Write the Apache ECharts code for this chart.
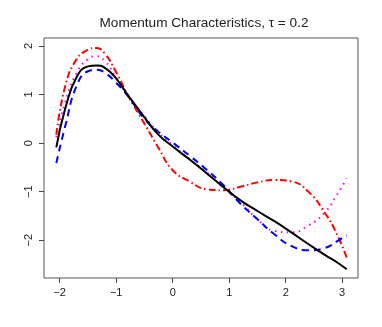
<!DOCTYPE html>
<html>
<head>
<meta charset="utf-8">
<script src="https://cdn.jsdelivr.net/npm/echarts@6/dist/echarts.min.js"></script>
<style>
  html, body { margin: 0; padding: 0; background: #fff; }
  #chart { width: 382px; height: 327px; }
</style>
</head>
<body>
<div id="chart"></div>
<script>
var xs = [-2.06, -1.9, -1.7, -1.5, -1.35, -1.2, -1.0, -0.8, -0.5, -0.25, 0, 0.3, 0.6, 0.9, 1.2, 1.5, 1.8, 2.1, 2.4, 2.7, 2.9, 3.08];

var blackVals = [-0.09, 0.72, 1.36, 1.58, 1.60, 1.55, 1.33, 1.0, 0.53, 0.17, -0.07, -0.34, -0.62, -0.91, -1.18, -1.40, -1.61, -1.84, -2.08, -2.31, -2.45, -2.60];
var blueVals  = [-0.41, 0.36, 1.18, 1.48, 1.51, 1.45, 1.24, 0.98, 0.50, 0.23, 0.01, -0.26, -0.55, -0.87, -1.25, -1.57, -1.88, -2.12, -2.21, -2.16, -2.03, -1.90];
var redVals   = [0.17, 1.18, 1.73, 1.92, 1.96, 1.84, 1.46, 1.0, 0.40, -0.10, -0.56, -0.79, -0.95, -0.97, -0.90, -0.81, -0.76, -0.79, -1.0, -1.45, -1.86, -2.36];
var pinkVals  = [0.12, 0.85, 1.45, 1.73, 1.79, 1.69, 1.35, 0.99, 0.55, 0.22, -0.04, -0.33, -0.60, -0.92, -1.22, -1.57, -1.81, -1.84, -1.70, -1.42, -1.08, -0.73];

var xTicks = [-2, -1, 0, 1, 2, 3];
var yTicks = [-2, -1, 0, 1, 2];

function pairs(vals) {
  return xs.map(function (x, i) { return [x, vals[i]]; });
}
function minusFmt(v) { return v < 0 ? '\u2212' + Math.abs(v) : '' + v; }

var chart = echarts.init(document.getElementById('chart'));

var option = {
  animation: false,
  title: {
    text: 'Momentum Characteristics, τ = 0.2',
    left: 199,
    textAlign: 'center',
    top: 11,
    textStyle: {
      fontFamily: 'Liberation Sans',
      fontSize: 13.6,
      fontWeight: 'normal',
      color: '#222'
    }
  },
  grid: {
    left: 44,
    top: 38,
    right: 24,
    bottom: 49,
    show: true,
    borderColor: '#555',
    borderWidth: 1
  },
  xAxis: {
    type: 'value',
    min: -2.278,
    max: 3.28,
    splitLine: { show: false },
    axisLine: { show: false, onZero: false },
    axisTick: { show: true, length: 5, lineStyle: { color: '#444' }, customValues: xTicks },
    axisLabel: {
      margin: 9,
      fontFamily: 'Liberation Sans',
      fontSize: 11,
      color: '#222',
      customValues: xTicks,
      formatter: minusFmt
    }
  },
  yAxis: {
    type: 'value',
    min: -2.78,
    max: 2.165,
    splitLine: { show: false },
    axisLine: { show: false, onZero: false },
    axisTick: { show: true, length: 5, lineStyle: { color: '#444' }, customValues: yTicks },
    axisLabel: {
      margin: 10,
      rotate: 90,
      fontFamily: 'Liberation Sans',
      fontSize: 11,
      color: '#222',
      customValues: yTicks,
      formatter: minusFmt
    }
  },
  series: [
    {
      type: 'line', data: pairs(blackVals), smooth: true, symbol: 'none',
      lineStyle: { color: '#000', width: 2 }, z: 5
    },
    {
      type: 'line', data: pairs(blueVals), smooth: true, symbol: 'none',
      lineStyle: { color: '#0000ff', width: 2, type: [7, 5] }, z: 4
    },
    {
      type: 'line', data: pairs(redVals), smooth: true, symbol: 'none',
      lineStyle: { color: '#ff0000', width: 2, type: [7, 3, 1.5, 3] }, z: 3
    },
    {
      type: 'line', data: pairs(pinkVals), smooth: true, symbol: 'none',
      lineStyle: { color: '#ff00ff', width: 2, type: [1.5, 4.5] }, z: 2
    }
  ]
};

chart.setOption(option);
</script>
</body>
</html>
